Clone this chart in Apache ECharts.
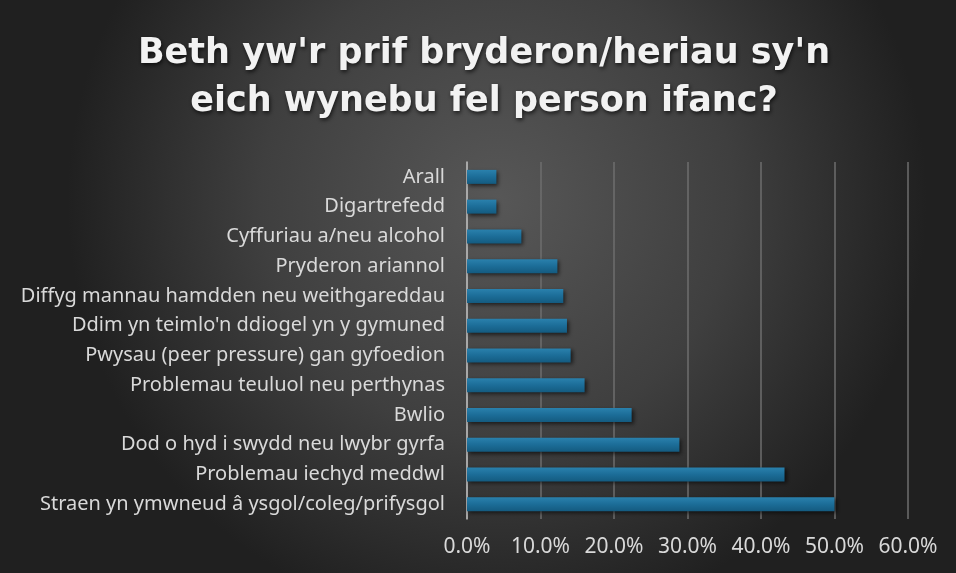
<!DOCTYPE html>
<html>
<head>
<meta charset="utf-8">
<script src="https://cdn.jsdelivr.net/npm/echarts@6/dist/echarts.min.js"></script>
<style>
html,body{margin:0;padding:0;background:#2a2a2a;}
#chart{width:956px;height:573px;}
</style>
</head>
<body>
<div id="chart"></div>
<script>
const titleText = "Beth yw'r prif bryderon/heriau sy'n\neich wynebu fel person ifanc?";
const categories = [
  "Straen yn ymwneud â ysgol/coleg/prifysgol",
  "Problemau iechyd meddwl",
  "Dod o hyd i swydd neu lwybr gyrfa",
  "Bwlio",
  "Problemau teuluol neu perthynas",
  "Pwysau (peer pressure) gan gyfoedion",
  "Ddim yn teimlo'n ddiogel yn y gymuned",
  "Diffyg mannau hamdden neu weithgareddau",
  "Pryderon ariannol",
  "Cyffuriau a/neu alcohol",
  "Digartrefedd",
  "Arall"
];
const values = [50.0, 43.2, 28.9, 22.4, 16.0, 14.1, 13.6, 13.1, 12.3, 7.4, 4.0, 4.0];
const xMin = 0, xMax = 60, xStep = 10;

const chart = echarts.init(document.getElementById('chart'), null, {renderer:'canvas'});
chart.setOption({
  backgroundColor: {
    type: 'radial', x: 0.52, y: 0.35, r: 0.75,
    colorStops: [
      {offset: 0, color: '#575757'},
      {offset: 0.55, color: '#3f3f3f'},
      {offset: 1, color: '#202020'}
    ]
  },
  title: {
    text: titleText,
    left: 479, top: 25, textAlign: 'center',
    textStyle: {
      color: '#f2f2f2', fontSize: 35, fontWeight: 'bold',
      fontFamily: 'DejaVu Sans', lineHeight: 48,
      textShadowColor: 'rgba(0,0,0,0.7)', textShadowBlur: 4, textShadowOffsetX: 1, textShadowOffsetY: 2
    }
  },
  grid: {left: 467, right: 48, top: 162, bottom: 54, containLabel: false},
  xAxis: {
    type: 'value', min: xMin, max: xMax, interval: xStep,
    axisLine: {show: false}, axisTick: {show: false},
    splitLine: {show: true, lineStyle: {color: '#6e6e6e', width: 1.5}},
    axisLabel: {color: '#d9d9d9', fontSize: 21, fontFamily: 'Noto Sans', margin: 18,
      formatter: v => v.toFixed(1) + '%'}
  },
  yAxis: {
    type: 'category', data: categories,
    axisLine: {show: true, lineStyle: {color: '#bfbfbf', width: 1.5}},
    axisTick: {show: false},
    axisLabel: {color: '#d9d9d9', fontSize: 20, fontFamily: 'Noto Sans', margin: 22}
  },
  series: [{
    type: 'bar', data: values, barWidth: 14,
    itemStyle: {
      color: {type: 'linear', x: 0, y: 0, x2: 0, y2: 1, colorStops: [
        {offset: 0, color: '#2a81ad'}, {offset: 0.5, color: '#1c6d98'}, {offset: 1, color: '#145b80'}]},
      shadowColor: 'rgba(0,0,0,0.6)', shadowBlur: 4, shadowOffsetX: 2, shadowOffsetY: 2
    },
    silent: true
  }],
  animation: false
});
</script>
</body>
</html>
